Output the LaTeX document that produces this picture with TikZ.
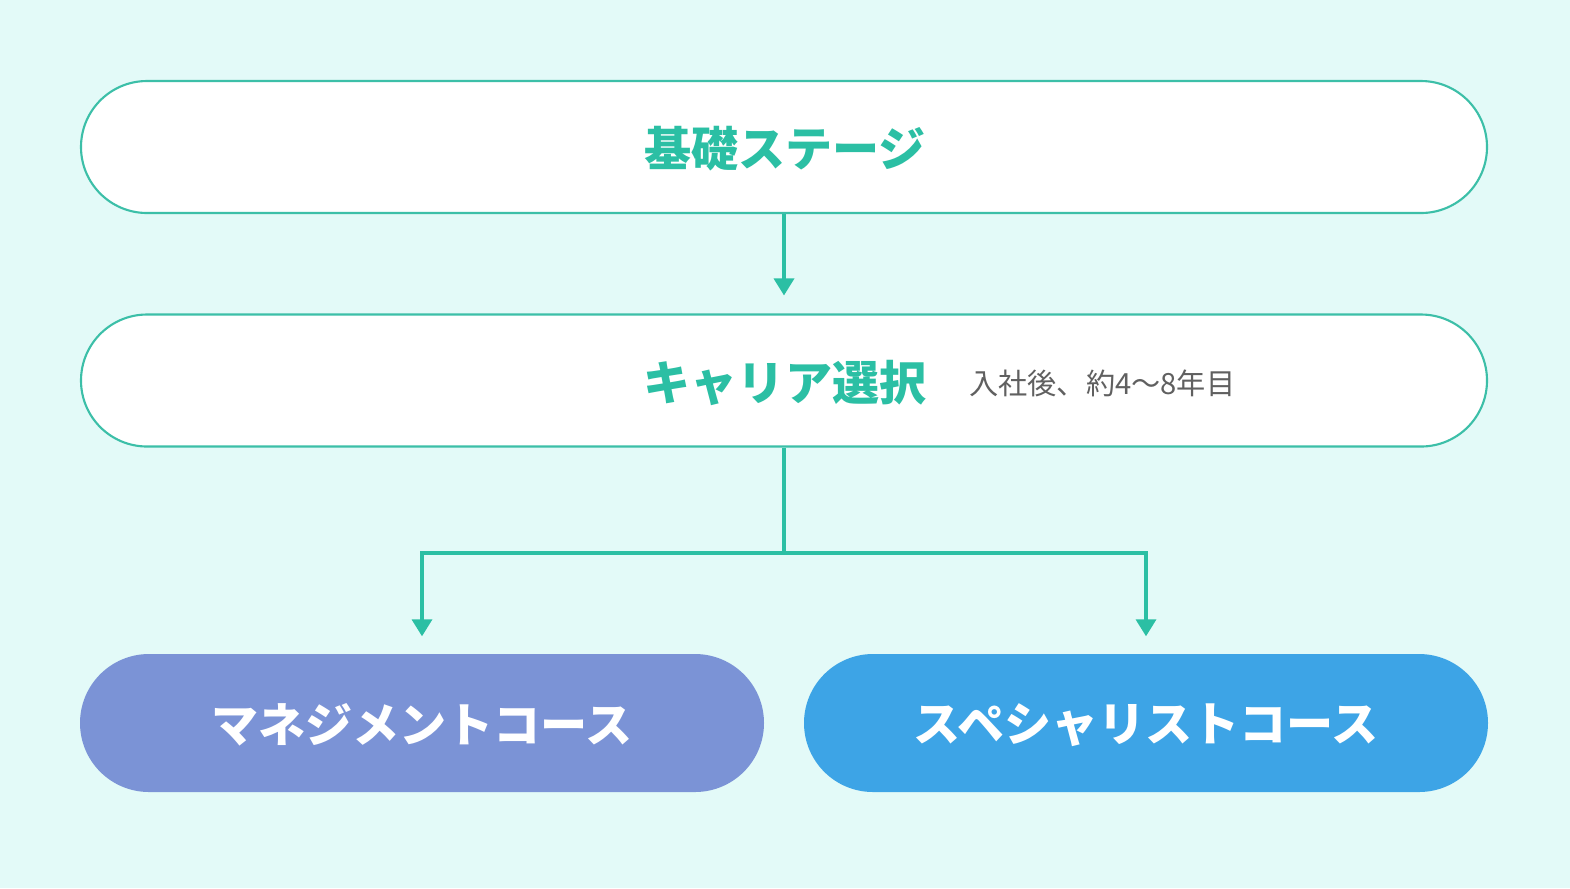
\documentclass[tikz,border=0pt]{standalone}
\usepackage{fontspec}
\newfontfamily\jpfont{Noto Sans CJK JP}
\usetikzlibrary{arrows.meta,positioning}
\definecolor{bgmint}{HTML}{E3FAF8}
\definecolor{teal}{HTML}{2BBFA4}
\definecolor{tealline}{HTML}{3CBFA8}
\definecolor{mgmtblue}{HTML}{7B93D6}
\definecolor{specblue}{HTML}{3DA4E6}
\definecolor{notegray}{HTML}{606060}
\tikzset{
  careerfig/.style={>={Triangle[length=0.17cm,width=0.2cm]},
    every node/.style={font=\jpfont,align=center}},
  stagebox/.style={draw=tealline,line width=0.6pt,fill=white,
    rounded corners=0.66cm,minimum width=14.06cm,minimum height=1.32cm},
  coursebox/.style={rounded corners=0.69cm,minimum width=6.84cm,
    minimum height=1.38cm},
  stagetitle/.style={font=\jpfont\bfseries\fontsize{13.4pt}{16pt}\selectfont,
    text=teal},
  coursetitle/.style={font=\jpfont\bfseries\fontsize{13.4pt}{16pt}\selectfont,
    text=white},
  note/.style={font=\jpfont\fontsize{8.3pt}{10pt}\selectfont,text=notegray},
  flowline/.style={draw=teal,line width=1pt},
}

\begin{document}
\begin{tikzpicture}[careerfig]
    \fill[bgmint] (0,0) rectangle (15.70,-8.88);
    \useasboundingbox (0,0) rectangle (15.70,-8.88);

    \node[stagebox] (base) at (7.84,-1.47) {};
    \node[stagetitle] (basetitle) at (7.85,-1.49) {基礎ステージ};

    \node[stagebox] (career) at (7.84,-3.805) {};
    \node[stagetitle] (careertitle) at (7.85,-3.83) {キャリア選択};
    \node[note,anchor=west] (careernote) at (9.57,-3.83) {入社後、約4〜8年目};

    \node[coursebox,fill=mgmtblue] (mgmt) at (4.22,-7.23) {};
    \node[coursetitle] (mgmttitle) at (4.22,-7.25) {マネジメントコース};
    \node[coursebox,fill=specblue] (spec) at (11.46,-7.23) {};
    \node[coursetitle] (spectitle) at (11.46,-7.25) {スペシャリストコース};

    \coordinate (split) at (7.84,-5.53);
    \draw[flowline,->,shorten >=0.18cm] (base) -- (career);
    \draw[flowline] (career) -- (split);
    \draw[flowline,->,shorten >=0.17cm] (split) -| (mgmt.north);
    \draw[flowline,->,shorten >=0.17cm] (split) -| (spec.north);
  \end{tikzpicture}
\end{document}
